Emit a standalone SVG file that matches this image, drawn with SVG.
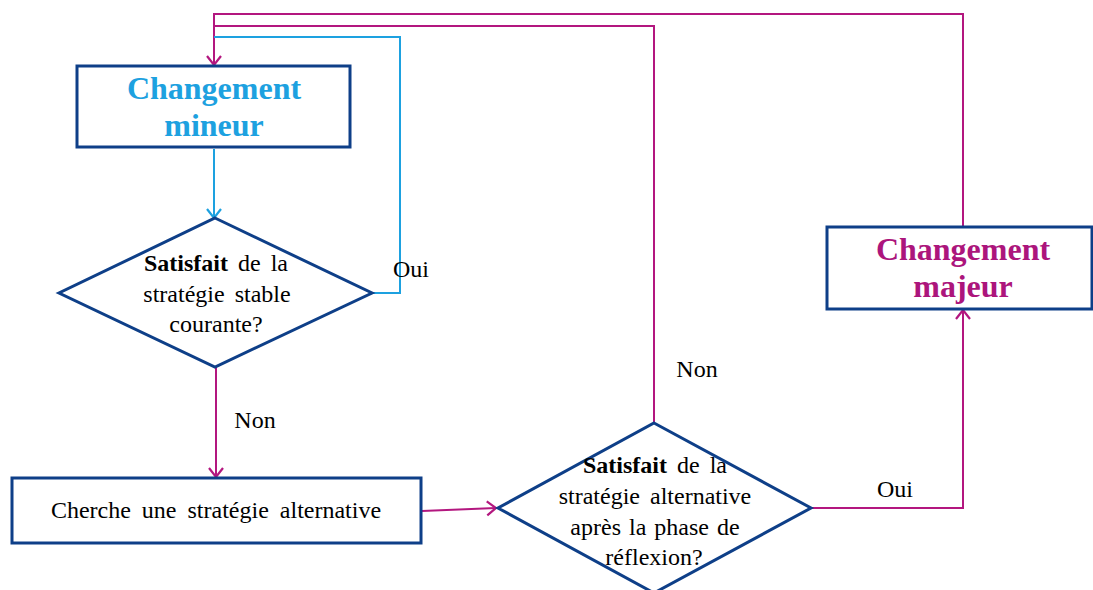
<svg xmlns="http://www.w3.org/2000/svg" width="1093" height="590" viewBox="0 0 1093 590">
<style>
.node{fill:#fff;stroke:#0E3F88;stroke-width:3}
.p{fill:none;stroke:#B3177F;stroke-width:2}
.b{fill:none;stroke:#1DA1E0;stroke-width:2}
.t{font-family:'Liberation Serif','DejaVu Serif',serif;font-size:24px;fill:#000;text-anchor:middle}
.h{font-family:'Liberation Serif','DejaVu Serif',serif;font-size:32px;font-weight:bold;text-anchor:middle}
.bold{font-weight:bold}
</style>
<defs>
<marker id="ap" markerUnits="userSpaceOnUse" markerWidth="20" markerHeight="20" refX="10" refY="8" orient="auto" viewBox="0 0 20 16">
<path d="M1,1 L10,8 L1,15" fill="none" stroke="#B3177F" stroke-width="2.2"/>
</marker>
<marker id="ab" markerUnits="userSpaceOnUse" markerWidth="20" markerHeight="20" refX="10" refY="8" orient="auto" viewBox="0 0 20 16">
<path d="M1,1 L10,8 L1,15" fill="none" stroke="#1DA1E0" stroke-width="2.2"/>
</marker>
</defs>
<g id="connectors">
<path class="p" d="M963,227 V14 H214 V65" marker-end="url(#ap)"/>
<path class="p" d="M654,423 V26 H214"/>
<path class="b" d="M372,293 H400 V37 H214"/>
<path class="b" d="M214,149 V218" marker-end="url(#ab)"/>
<path class="p" d="M216,367 V477" marker-end="url(#ap)"/>
<path class="p" d="M422,511 L496,508" marker-end="url(#ap)"/>
<path class="p" d="M811,508 H963 V310" marker-end="url(#ap)"/>
<text class="t" x="411" y="277">Oui</text>
<text class="t" x="255" y="428">Non</text>
<text class="t" x="697" y="377">Non</text>
<text class="t" x="895" y="497">Oui</text>
</g>
<g id="n1">
<rect class="node" x="77" y="66" width="273" height="81"/>
<text class="h" x="214" y="99" fill="#1DA1E0">Changement</text>
<text class="h" x="214" y="136" fill="#1DA1E0">mineur</text>
</g>
<g id="d1">
<polygon class="node" points="215,218 372,293 215,367 59,293"/>
<text class="t" x="216" y="271" word-spacing="4"><tspan class="bold">Satisfait</tspan> de la</text>
<text class="t" x="217" y="302" word-spacing="4">stratégie stable</text>
<text class="t" x="216" y="332">courante?</text>
</g>
<g id="n2">
<rect class="node" x="12" y="478" width="409" height="65"/>
<text class="t" x="216" y="518" word-spacing="5">Cherche une stratégie alternative</text>
</g>
<g id="d2">
<polygon class="node" points="654,423 811,508 654,593 498,508"/>
<text class="t" x="655" y="473" word-spacing="4"><tspan class="bold">Satisfait</tspan> de la</text>
<text class="t" x="655" y="504" word-spacing="4">stratégie alternative</text>
<text class="t" x="655" y="535" word-spacing="2">après la phase de</text>
<text class="t" x="654" y="565">réflexion?</text>
</g>
<g id="n3">
<rect class="node" x="827" y="227" width="265" height="82"/>
<text class="h" x="963" y="260" fill="#AC157C">Changement</text>
<text class="h" x="963" y="297" fill="#AC157C">majeur</text>
</g>
</svg>
